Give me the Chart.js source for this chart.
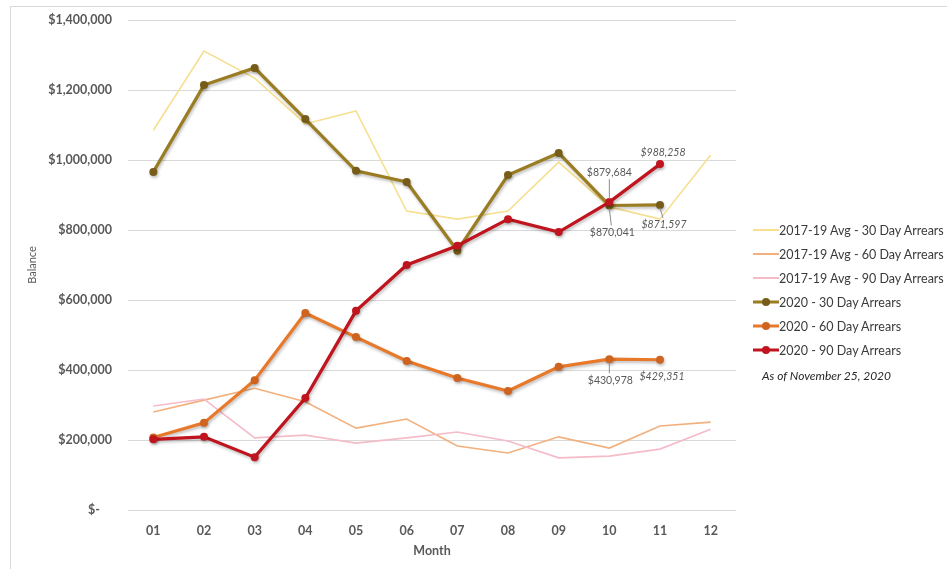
<!DOCTYPE html>
<html>
<head>
<meta charset="utf-8">
<script src="https://cdn.jsdelivr.net/npm/chart.js@4.4.1/dist/chart.umd.min.js"></script>
<style>
  html, body { margin: 0; padding: 0; background: #fff; }
  body { width: 947px; height: 569px; position: relative; overflow: hidden; font-family: Lato, "Open Sans", sans-serif; }
  #frame { position: absolute; left: 10px; top: 6px; width: 960px; height: 600px; border: 1px solid #d9d9d9; box-sizing: border-box; }
  #chart { position: absolute; left: 0; top: 0; }
  #legend { position: absolute; left: 753px; top: 218px; }
  .item { height: 24px; display: flex; align-items: center; font-size: 12.5px; color: #3a3a3a; white-space: nowrap; }
  .swatch { width: 26px; height: 10px; position: relative; margin-right: 0; }
  .swatch .ln { position: absolute; left: 0; right: 0; top: 50%; transform: translateY(-50%); }
  .swatch .dot { position: absolute; left: 9px; top: 1px; width: 8px; height: 8px; border-radius: 50%; }
  #note { font-size: 12px; font-style: italic; color: #262626; margin: 6px 0 0 9px; }
</style>
</head>
<body>
<div id="frame"></div>
<canvas id="chart" width="947" height="569"></canvas>
<div id="legend"></div>

<script>
const months = ['01', '02', '03', '04', '05', '06', '07', '08', '09', '10', '11', '12'];
const yTicks = [0, 200000, 400000, 600000, 800000, 1000000, 1200000, 1400000];

const avg30 = [1085000, 1311000, 1234000, 1103000, 1140000, 854000, 831000, 854000, 994000, 866000, 831000, 1014000];
const avg60 = [280000, 314000, 348000, 309000, 234000, 260000, 183000, 163000, 209000, 177000, 240000, 251000];
const avg90 = [297000, 317000, 206000, 214000, 191000, 206000, 223000, 197000, 149000, 154000, 174000, 231000];
const y2020_30 = [966000, 1214000, 1263000, 1117000, 969000, 937000, 741000, 957000, 1020000, 870041, 871597, null];
const y2020_60 = [207000, 249000, 371000, 563000, 494000, 426000, 377000, 340000, 409000, 430978, 429351, null];
const y2020_90 = [202000, 209000, 151000, 320000, 569000, 700000, 755000, 831000, 794000, 879684, 988258, null];

const seriesNames = [
  '2017-19 Avg - 30 Day Arrears',
  '2017-19 Avg - 60 Day Arrears',
  '2017-19 Avg - 90 Day Arrears',
  '2020 - 30 Day Arrears',
  '2020 - 60 Day Arrears',
  '2020 - 90 Day Arrears',
];
const noteText = 'As of November 25, 2020';

const COLORS = {
  avg30: '#f6df8f',
  avg60: '#f2b07e',
  avg90: '#f4bcc8',
  y30: '#9a7d22',
  y30dot: '#765c18',
  y60: '#e8782a',
  y60dot: '#cf6420',
  y90: '#c0141e',
  y90dot: '#c0141e',
  grid: '#d9d9d9',
  tick: '#595959',
  label: '#595959',
};

// which points get value labels: dataset index, point index, offset, italic
const callouts = [
  { ds: 5, i: 10, dx: 3, dy: -12, italic: true, leader: false },
  { ds: 5, i: 9, dx: 0, dy: -30, italic: false, leader: true },
  { ds: 3, i: 9, dx: 3, dy: 27, italic: false, leader: true },
  { ds: 3, i: 10, dx: 4, dy: 20, italic: true, leader: true },
  { ds: 4, i: 9, dx: 1, dy: 21, italic: false, leader: true },
  { ds: 4, i: 10, dx: 2, dy: 17, italic: true, leader: false },
];

const money = (v) => '$' + Math.round(v).toLocaleString('en-US');

function thin(label, data, color, order) {
  return { label, data, borderColor: color, backgroundColor: color, borderWidth: 1.6, pointRadius: 0, tension: 0, order };
}
function thick(label, data, color, dot, order) {
  return {
    label, data, borderColor: color, backgroundColor: dot, borderWidth: 3.2,
    pointRadius: 4, pointBorderWidth: 0, pointBackgroundColor: dot, tension: 0, order, shadow: true,
  };
}

const datasets = [
  thin(seriesNames[0], avg30, COLORS.avg30, 5),
  thin(seriesNames[1], avg60, COLORS.avg60, 4),
  thin(seriesNames[2], avg90, COLORS.avg90, 3),
  thick(seriesNames[3], y2020_30, COLORS.y30, COLORS.y30dot, 2),
  thick(seriesNames[4], y2020_60, COLORS.y60, COLORS.y60dot, 1),
  thick(seriesNames[5], y2020_90, COLORS.y90, COLORS.y90dot, 0),
];

const shadowPlugin = {
  id: 'shadow',
  beforeDatasetDraw(chart, args) {
    const ds = chart.data.datasets[args.index];
    chart.ctx.save();
    if (ds.shadow) {
      chart.ctx.shadowColor = 'rgba(0,0,0,0.25)';
      chart.ctx.shadowBlur = 3;
      chart.ctx.shadowOffsetX = 1;
      chart.ctx.shadowOffsetY = 2;
    }
  },
  afterDatasetDraw(chart) {
    chart.ctx.restore();
  },
};

const calloutPlugin = {
  id: 'callouts',
  afterDatasetsDraw(chart) {
    const ctx = chart.ctx;
    ctx.save();
    callouts.forEach((c) => {
      const pt = chart.getDatasetMeta(c.ds).data[c.i];
      const val = chart.data.datasets[c.ds].data[c.i];
      const tx = pt.x + c.dx;
      const ty = pt.y + c.dy;
      if (c.leader) {
        ctx.strokeStyle = '#8c8c8c';
        ctx.lineWidth = 1;
        ctx.beginPath();
        if (c.dy < 0) {
          ctx.moveTo(pt.x, pt.y - 3);
          ctx.lineTo(tx, ty + 7);
        } else {
          ctx.moveTo(pt.x, pt.y + 3);
          ctx.lineTo(tx - 1, ty - 7);
        }
        ctx.stroke();
      }
      ctx.fillStyle = COLORS.label;
      ctx.font = (c.italic ? 'italic ' : '') + '10.5px Lato, "Open Sans", sans-serif';
      ctx.textAlign = 'center';
      ctx.textBaseline = 'middle';
      ctx.fillText(money(val), tx, ty);
    });
    ctx.restore();
  },
};

new Chart(document.getElementById('chart'), {
  type: 'line',
  data: { labels: months, datasets },
  options: {
    responsive: false,
    animation: false,
    layout: { padding: { left: 10, right: 211, top: 20, bottom: 7 } },
    plugins: { legend: { display: false }, tooltip: { enabled: false } },
    scales: {
      x: {
        offset: true,
        grid: { display: false },
        border: { display: false },
        ticks: { color: COLORS.tick, padding: 5, font: { family: 'Lato', size: 12.5, weight: 'bold' } },
        title: { display: true, text: 'Month', color: COLORS.tick, padding: { bottom: 4 }, font: { family: 'Lato', size: 12.5, weight: 'bold' } },
        afterFit: (axis) => { axis.height = 52; },
      },
      y: {
        min: 0,
        max: 1400000,
        afterBuildTicks: (axis) => { axis.ticks = yTicks.map((v) => ({ value: v })); },
        grid: { color: COLORS.grid, drawTicks: false },
        border: { display: false },
        ticks: {
          color: COLORS.tick,
          padding: 16,
          font: { family: 'Lato', size: 12.5, weight: 'bold' },
          callback: (v) => (v === 0 ? '$-    ' : money(v)),
        },
        title: { display: true, text: 'Balance', color: COLORS.tick, padding: { top: 16 }, font: { family: 'Lato', size: 11 } },
        afterFit: (axis) => {
          axis.width = 118;
          axis.paddingTop = 8;
          axis.paddingBottom = 8;
        },
      },
    },
  },
  plugins: [shadowPlugin, calloutPlugin],
});

// legend
const legend = document.getElementById('legend');
datasets.forEach((ds) => {
  const row = document.createElement('div');
  row.className = 'item';
  const dot = ds.pointRadius ? `<div class="dot" style="background:${ds.pointBackgroundColor}"></div>` : '';
  row.innerHTML = `<div class="swatch"><div class="ln" style="height:${ds.pointRadius ? 3 : 2}px;background:${ds.borderColor}"></div>${dot}</div><span>${ds.label}</span>`;
  legend.appendChild(row);
});
const note = document.createElement('div');
note.id = 'note';
note.textContent = noteText;
legend.appendChild(note);
</script>
</body>
</html>
